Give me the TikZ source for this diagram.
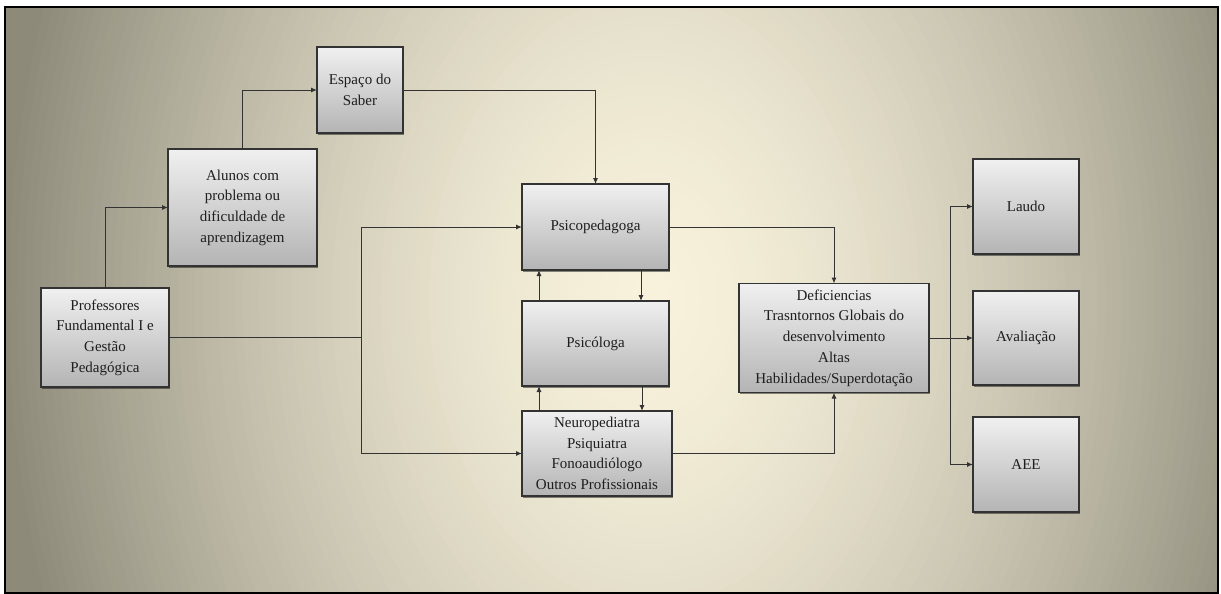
\documentclass[tikz,border=0pt]{standalone}
\usepackage{fontspec}
\setmainfont{Liberation Serif}
\usetikzlibrary{arrows.meta,shadows,calc}
\definecolor{bgin}{HTML}{F8F2DC}
\definecolor{bgout}{HTML}{8D8A7A}
\definecolor{boxtop}{HTML}{F0F0F0}
\definecolor{boxbot}{HTML}{B4B4B4}
\definecolor{edge}{HTML}{333333}
\definecolor{txt}{HTML}{1E1E1E}
\tikzset{
  box/.style={draw=edge, line width=1.1pt, top color=boxtop, bottom color=boxbot,
    text=txt, align=center, inner sep=2pt, outer sep=0pt,
    font=\fontsize{15}{20.7}\selectfont,
    drop shadow={shadow xshift=1.2pt, shadow yshift=-1.5pt, opacity=0.45, fill=black}},
  arr/.style={draw=edge, line width=1pt, -{Latex[length=6pt,width=5pt]}},
  ln/.style={draw=edge, line width=1pt}
}
\begin{document}
\begin{tikzpicture}[x=1pt,y=-1pt]
\useasboundingbox (0,0) rectangle (1221,594);
\fill[white] (0,0) rectangle (1221,594);
\begin{scope}
\clip (5,7) rectangle (1218,593);
\fill[bgout] (5,7) rectangle (1218,593);
\foreach \i in {0,...,90}{
  \pgfmathsetmacro\tt{1.12*(1-\i/90)+0.004}
  \pgfmathsetmacro\pp{100*(1-min(1,\tt)^1.55)}
  \fill[bgin!\pp!bgout] (650,300) ellipse [x radius=\tt*650, y radius=\tt*900];
}
\end{scope}
\draw[line width=2pt, black] (5,7) rectangle (1218,593);

\node[box, minimum width=86pt, minimum height=86pt] (esp) at (360,90) {Espaço do\\Saber};
\node[box, minimum width=149pt, minimum height=117pt] (alu) at (242.5,207.5) {Alunos com\\problema ou\\dificuldade de\\aprendizagem};
\node[box, minimum width=128pt, minimum height=99pt] (prof) at (105,337.5) {Professores\\Fundamental I e\\Gestão\\Pedagógica};
\node[box, minimum width=147pt, minimum height=86pt] (psp) at (595.5,227) {Psicopedagoga};
\node[box, minimum width=147pt, minimum height=85pt] (psi) at (595.5,343.5) {Psicóloga};
\node[box, minimum width=150pt, minimum height=85pt] (neu) at (597,453.5) {Neuropediatra\\Psiquiatra\\Fonoaudiólogo\\Outros Profissionais};
\node[box, minimum width=190pt, minimum height=109pt] (def) at (834,338) {Deficiencias\\Trasntornos Globais do\\desenvolvimento\\Altas\\Habilidades/Superdotação};
\node[box, minimum width=106pt, minimum height=95pt] (lau) at (1026,206.5) {Laudo};
\node[box, minimum width=106pt, minimum height=94pt] (ava) at (1026,338) {Avaliação};
\node[box, minimum width=106pt, minimum height=95pt] (aee) at (1026,464.5) {AEE};

\coordinate (j) at (361,337.5);
\coordinate (k) at (950,338);

\draw[arr] (prof.north) |- (alu.west);
\draw[arr] (alu.north) |- (esp.west);
\draw[arr] (esp.east) -| (psp.north);
\draw[ln] (prof.east) -- (j);
\draw[arr] (j) |- (psp.west);
\draw[arr] (j) |- (neu.west);
\draw[arr] ([xshift=-56.5pt]psi.north) -- ([xshift=-56.5pt]psp.south);
\draw[arr] ([xshift=45.5pt]psp.south) -- ([xshift=45.5pt]psi.north);
\draw[arr] ([xshift=-58pt]neu.north) -- ([xshift=-58pt]neu.north |- psi.south);
\draw[arr] ([xshift=45pt]neu.north |- psi.south) -- ([xshift=45pt]neu.north);
\draw[arr] (psp.east) -| (def.north);
\draw[arr] (neu.east) -| (def.south);
\draw[ln] (def.east) -- (k);
\draw[arr] (k) |- (lau.west);
\draw[arr] (k) -- (ava.west);
\draw[arr] (k) |- (aee.west);
\end{tikzpicture}
\end{document}
